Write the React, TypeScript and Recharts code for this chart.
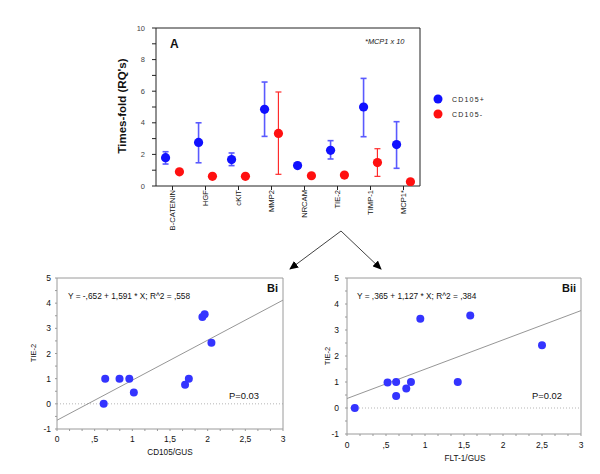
import React from 'react';
import { ScatterChart, Scatter, XAxis, YAxis, ErrorBar, ReferenceLine } from 'recharts';

// ---- Panel A data ----
const genes = ['B-CATENIN', 'HGF', 'cKIT', 'MMP2', 'NRCAM', 'TIE-2', 'TIMP-1', 'MCP1*'];
const posMean = [1.79, 2.76, 1.67, 4.85, 1.29, 2.26, 5.0, 2.62];
const posLow = [1.39, 1.47, 1.29, 3.14, 1.18, 1.71, 3.12, 1.12];
const posHigh = [2.17, 4.0, 2.09, 6.58, 1.4, 2.87, 6.81, 4.07];
const negMean = [0.9, 0.61, 0.61, 3.33, 0.65, 0.69, 1.48, 0.27];
const negLow = [0.9, 0.61, 0.61, 0.74, 0.65, 0.69, 0.61, 0.27];
const negHigh = [0.9, 0.61, 0.61, 5.95, 0.65, 0.69, 2.36, 0.27];
const aYTicks = [0, 1, 2, 3, 4, 5, 6, 7, 8, 9, 10];
const aXTicks = [0, 1, 2, 3, 4, 5, 6, 7];

// ---- Panel Bi data ----
const biX = [0.62, 0.64, 0.83, 0.96, 1.02, 1.7, 1.75, 1.93, 1.96, 2.05];
const biY = [0.0, 1.0, 1.0, 1.0, 0.45, 0.76, 1.0, 3.45, 3.56, 2.43];
const biFit = [-0.652, 1.591];

// ---- Panel Bii data ----
const biiX = [0.1, 0.52, 0.63, 0.63, 0.76, 0.82, 0.94, 1.42, 1.58, 2.5];
const biiY = [0.0, 0.98, 1.0, 0.46, 0.75, 1.0, 3.43, 1.0, 3.56, 2.41];
const biiFit = [0.365, 1.127];

const bXTicks = [0, 0.1667, 0.3333, 0.5, 0.6667, 0.8333, 1, 1.1667, 1.3333, 1.5, 1.6667, 1.8333, 2, 2.1667, 2.3333, 2.5, 2.6667, 2.8333, 3];
const bYTicks = [-1, -0.5, 0, 0.5, 1, 1.5, 2, 2.5, 3, 3.5, 4, 4.5, 5];

const FONT = '"Liberation Sans", Arial, Helvetica, sans-serif';
const OFF = 0.21;

const posData = genes.map((g, i) => ({ x: i - OFF, y: posMean[i], err: [posMean[i] - posLow[i], posHigh[i] - posMean[i]] }));
const negData = genes.map((g, i) => ({ x: i + OFF, y: negMean[i], err: [negMean[i] - negLow[i], negHigh[i] - negMean[i]] }));

const GeneTick = (props: any) => {
  const { x, y, payload } = props;
  return (
    <text x={x} y={y} transform={`rotate(-90, ${x}, ${y})`} textAnchor="end" dy="0.35em" fontSize={7.6} fill="#111">
      {genes[payload.value]}
    </text>
  );
};

const fmtX = (v: number) => {
  if (Math.abs(v * 2 - Math.round(v * 2)) > 1e-3) return '';
  if (v === 0) return '0';
  const s = String(v);
  return s.startsWith('0.') ? s.replace('0.', ',') : s.replace('.', ',');
};
const fmtY = (v: number) => (Number.isInteger(v) ? String(v) : '');
const noShape = () => <g />;

function PanelA() {
  const blueDot = (p: any) => <circle cx={p.cx} cy={p.cy} r={4.6} fill="#1010ff" />;
  const redDot = (p: any) => <circle cx={p.cx} cy={p.cy} r={4.6} fill="#ff1010" />;
  return (
    <ScatterChart width={440} height={240} margin={{ top: 27, right: 19, left: 0, bottom: 0 }}>
      <XAxis xAxisId="b" type="number" dataKey="x" domain={[-0.5, 7.5]} ticks={aXTicks} interval={0} height={54}
        tick={<GeneTick />} tickSize={4} tickMargin={0} stroke="#222" allowDataOverflow />
      <XAxis xAxisId="t" orientation="top" type="number" dataKey="x" domain={[-0.5, 7.5]} ticks={aXTicks} interval={0} height={1}
        tick={false} tickSize={3} stroke="#222" allowDataOverflow />
      <YAxis yAxisId="l" type="number" dataKey="y" domain={[0, 10]} ticks={aYTicks} interval={0} width={156}
        tickFormatter={(v: number) => (v % 2 === 0 ? String(v) : '')} tick={{ fontSize: 7.5, fill: '#444' }}
        tickSize={4} tickMargin={7} stroke="#222" allowDataOverflow />
      <YAxis yAxisId="r" orientation="right" type="number" dataKey="y" domain={[0, 10]} ticks={aYTicks} interval={0} width={1}
        tick={false} tickSize={4} stroke="#222" allowDataOverflow />
      <Scatter xAxisId="t" yAxisId="r" data={posData} isAnimationActive={false} shape={noShape} />
      <Scatter xAxisId="b" yAxisId="l" data={posData} fill="#1010ff" isAnimationActive={false} shape={blueDot}>
        <ErrorBar dataKey="err" direction="y" width={3} stroke="#5a5aff" strokeWidth={1.6} />
      </Scatter>
      <Scatter xAxisId="b" yAxisId="l" data={negData} fill="#ff1010" isAnimationActive={false} shape={redDot}>
        <ErrorBar dataKey="err" direction="y" width={3} stroke="#ff2a2a" strokeWidth={1.2} />
      </Scatter>
    </ScatterChart>
  );
}

function FitPanel(props: { xs: number[]; ys: number[]; fit: number[]; yw: number; mr: number; xh: number; xtm: number; ytm: number }) {
  const { xs, ys, fit, yw, mr, xh, xtm, ytm } = props;
  const data = xs.map((x, i) => ({ x, y: ys[i] }));
  const dot = (p: any) => <circle cx={p.cx} cy={p.cy} r={4} fill="#3434ff" />;
  return (
    <ScatterChart width={300} height={224} margin={{ top: 27, right: mr - 1, left: 0, bottom: 0 }}>
      <XAxis xAxisId="m" type="number" dataKey="x" domain={[0, 3]} ticks={bXTicks} interval={0} tickFormatter={fmtX}
        height={xh} tickSize={2} tickMargin={xtm} stroke="#9a9a9a" tick={{ fill: '#111', fontSize: 8.5 }} allowDataOverflow />
      <XAxis xAxisId="t" orientation="top" type="number" dataKey="x" domain={[0, 3]} ticks={bXTicks} interval={0} height={1}
        tick={false} tickSize={2} stroke="#9a9a9a" allowDataOverflow />
      <YAxis yAxisId="m" type="number" dataKey="y" domain={[-1, 5]} ticks={bYTicks} interval={0} tickFormatter={fmtY}
        width={yw} tickSize={2} tickMargin={ytm} stroke="#9a9a9a" tick={{ fill: '#111', fontSize: 8.5 }} allowDataOverflow />
      <YAxis yAxisId="r" orientation="right" type="number" dataKey="y" domain={[-1, 5]} ticks={bYTicks} interval={0} width={1}
        tick={false} tickSize={2} stroke="#9a9a9a" allowDataOverflow />
      <Scatter xAxisId="t" yAxisId="r" data={data} isAnimationActive={false} shape={noShape} />
      <ReferenceLine xAxisId="m" yAxisId="m" y={0} stroke="#b5b5b5" strokeDasharray="1 2" />
      <ReferenceLine xAxisId="m" yAxisId="m" segment={[{ x: 0, y: fit[0] }, { x: 3, y: fit[0] + fit[1] * 3 }]} stroke="#8a8a8a" strokeWidth={0.9} />
      <Scatter xAxisId="m" yAxisId="m" data={data} fill="#3434ff" isAnimationActive={false} shape={dot} />
    </ScatterChart>
  );
}

export default function App() {
  return (
    <div style={{ position: 'absolute', left: 0, top: 0, width: 600, height: 474, background: '#fff', fontFamily: FONT }}>
      <div style={{ position: 'absolute', left: 0, top: 0 }}>
        <PanelA />
      </div>
      <div style={{ position: 'absolute', left: 0, top: 250 }}>
        <FitPanel xs={biX} ys={biY} fit={biFit} yw={57} mr={17} xh={45} xtm={5} ytm={4} />
      </div>
      <div style={{ position: 'absolute', left: 300, top: 250 }}>
        <FitPanel xs={biiX} ys={biiY} fit={biiFit} yw={47} mr={19} xh={40} xtm={6} ytm={6} />
      </div>
      <svg width={600} height={474} style={{ position: 'absolute', left: 0, top: 0, pointerEvents: 'none', fontFamily: FONT }}>
        <defs>
          <marker id="ah" markerWidth="9" markerHeight="8" refX="8" refY="4" orient="auto" markerUnits="userSpaceOnUse">
            <path d="M0,0 L9,4 L0,8 z" fill="#000" />
          </marker>
        </defs>
        {/* Panel A annotations */}
        <text x={122} y={106} transform="rotate(-90, 122, 106)" textAnchor="middle" dy="0.35em" fontSize={11.5} fontWeight="bold" fill="#111">Times-fold (RQ's)</text>
        <text x={170} y={48} fontSize={12} fontWeight="bold" fill="#111">A</text>
        <text x={365} y={44} fontSize={7.4} fontStyle="italic" fill="#222">*MCP1 x 10</text>
        <circle cx={438} cy={99} r={4.5} fill="#1010ff" />
        <circle cx={438} cy={114} r={4.5} fill="#ff1010" />
        <text x={452} y={101.5} fontSize={7} letterSpacing={1.2} fill="#222">CD105+</text>
        <text x={452} y={116.5} fontSize={7} letterSpacing={1.2} fill="#222">CD105-</text>
        {/* Arrows */}
        <line x1={341} y1={231} x2={290} y2={269} stroke="#111" strokeWidth={0.8} markerEnd="url(#ah)" />
        <line x1={341} y1={231} x2={381} y2={269} stroke="#111" strokeWidth={0.8} markerEnd="url(#ah)" />
        {/* Panel Bi annotations */}
        <text x={68} y={298.5} fontSize={8.3} fill="#111">Y = -,652 + 1,591 * X; R^2 = ,558</text>
        <text x={278} y={292} textAnchor="end" fontSize={11} fontWeight="bold" fill="#111">Bi</text>
        <text x={229} y={398.5} fontSize={9.4} fill="#111">P=0.03</text>
        <text x={33} y={353} transform="rotate(-90, 33, 353)" textAnchor="middle" dy="0.35em" fontSize={7.5} fill="#111">TIE-2</text>
        <text x={170} y={455} textAnchor="middle" fontSize={8.2} fill="#111">CD105/GUS</text>
        {/* Panel Bii annotations */}
        <text x={357} y={298.5} fontSize={8.3} fill="#111">Y = ,365 + 1,127 * X; R^2 = ,384</text>
        <text x={576} y={292} textAnchor="end" fontSize={11} fontWeight="bold" fill="#111">Bii</text>
        <text x={532} y={398.5} fontSize={9.4} fill="#111">P=0.02</text>
        <text x={327} y={356} transform="rotate(-90, 327, 356)" textAnchor="middle" dy="0.35em" fontSize={7.5} fill="#111">TIE-2</text>
        <text x={465} y={461} textAnchor="middle" fontSize={8.2} fill="#111">FLT-1/GUS</text>
      </svg>
    </div>
  );
}
